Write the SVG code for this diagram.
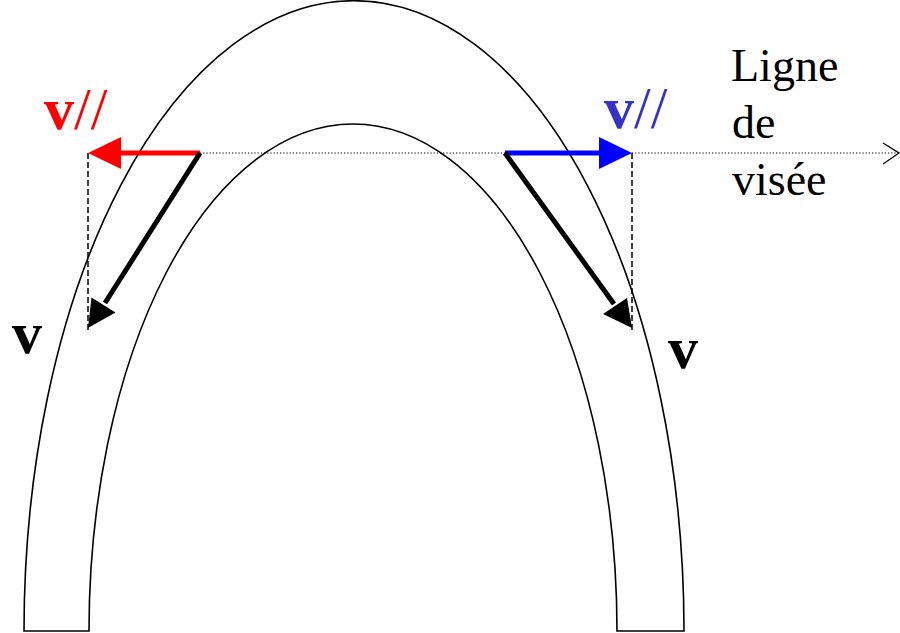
<svg xmlns="http://www.w3.org/2000/svg" width="900" height="633" viewBox="0 0 900 633">
<style>
.arch{fill:none;stroke:#000;stroke-width:1.6}
.dot{fill:none;stroke:#000;stroke-width:1.2;stroke-dasharray:1.2 2}
.dash{fill:none;stroke:#000;stroke-width:1.5;stroke-dasharray:6 3}
.vec{stroke-width:5;fill:none}
.t{font-family:"Liberation Serif","Times New Roman",serif}
.b{font-weight:bold}
</style>
<rect width="900" height="633" fill="#fff"/>
<g id="arch">
<path class="arch" d="M24 631 A330 630.5 0 0 1 684 631 L617 631 A264 507 0 0 0 89 631 Z"/>
</g>
<g id="connectors">
<path class="dot" d="M200 153 H898"/>
<path fill="none" stroke="#000" stroke-width="1.3" d="M883 143 L899 153 L883 164"/>
<path class="dash" d="M88 153 V330"/>
<path class="dash" d="M632 153 V330"/>
<line class="vec" stroke="#ff0000" x1="200" y1="153" x2="115" y2="153"/>
<polygon fill="#ff0000" points="88,153 121,137 121,169"/>
<line class="vec" stroke="#0000ff" x1="505" y1="153" x2="605" y2="153"/>
<polygon fill="#0000ff" points="632,153 599,137 599,169"/>
<line class="vec" stroke="#000" x1="200" y1="153" x2="105" y2="303"/>
<polygon fill="#000" points="88,328 115.5,312.5 91.5,297.5"/>
<line class="vec" stroke="#000" x1="505" y1="153" x2="614" y2="304"/>
<polygon fill="#000" points="632,328 627,298 603,314"/>
</g>
<g id="labels">
<text class="t" x="44" y="129" font-size="60" fill="#ff0000"><tspan class="b">v</tspan>//</text>
<text class="t" x="604" y="128" font-size="60" fill="#3333cc"><tspan class="b">v</tspan>//</text>
<text class="t b" x="12" y="353" font-size="60" fill="#000">v</text>
<text class="t b" x="668" y="368" font-size="60" fill="#000">v</text>
<text class="t" font-size="46" fill="#000"><tspan x="731" y="81">Ligne</tspan><tspan x="732" y="138">de</tspan><tspan x="732" y="195">visée</tspan></text>
</g>
</svg>
